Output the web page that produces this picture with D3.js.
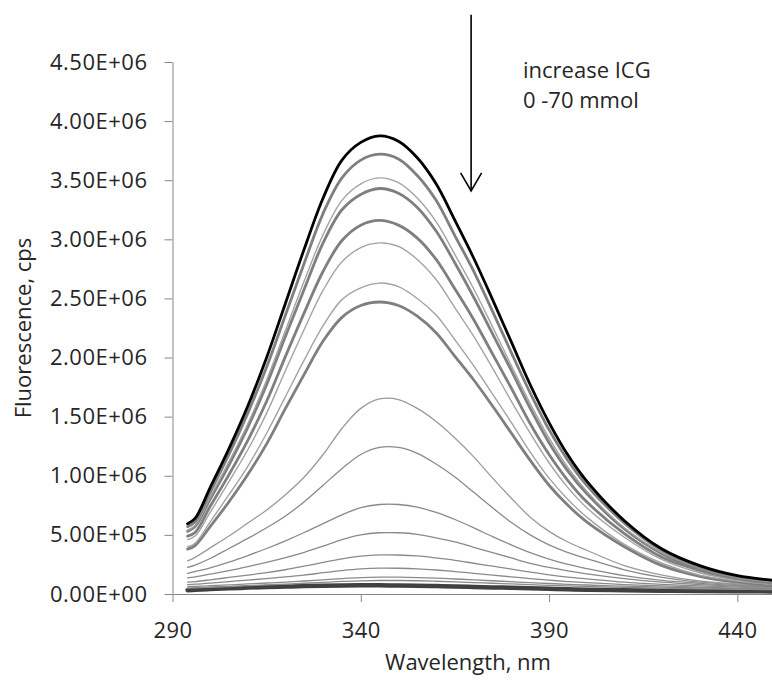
<!DOCTYPE html>
<html>
<head>
<meta charset="utf-8">
<script src="https://cdnjs.cloudflare.com/ajax/libs/d3/7.8.5/d3.min.js"></script>
<style>
  body { margin: 0; background: #fff; }
  svg { display: block; font-family: "Open Sans", sans-serif; }
  .axis path, .axis line { stroke: #868686; stroke-width: 1; }
  .axis text { font-family: "Open Sans", sans-serif; font-size: 22px; fill: #262626; letter-spacing: 0.5px; }
  .title { font-size: 22px; fill: #262626; }
</style>
</head>
<body>
<div id="chart"></div>
<script>
/* Wavelengths (nm) at which the spectra were read */
var wavelengths = [294, 296, 300, 305, 310, 315, 320, 325, 330, 335, 340, 345, 350, 355, 360, 365, 370, 375, 380, 385, 390, 395, 400, 410, 420, 430, 440, 450];

/* Fluorescence values, in units of 1E+06 cps */
var icg0  = [0.595, 0.64, 0.90, 1.23, 1.59, 2.00, 2.46, 2.92, 3.35, 3.67, 3.82, 3.875, 3.83, 3.69, 3.47, 3.16, 2.84, 2.49, 2.13, 1.77, 1.45, 1.175, 0.955, 0.62, 0.38, 0.24, 0.155, 0.115];
var icg1  = [0.57, 0.61, 0.86, 1.18, 1.53, 1.92, 2.36, 2.80, 3.22, 3.52, 3.67, 3.72, 3.68, 3.54, 3.33, 3.03, 2.73, 2.39, 2.04, 1.70, 1.39, 1.13, 0.92, 0.60, 0.37, 0.23, 0.15, 0.11];
var icg2  = [0.54, 0.58, 0.82, 1.12, 1.44, 1.81, 2.23, 2.65, 3.04, 3.33, 3.47, 3.52, 3.48, 3.35, 3.15, 2.87, 2.58, 2.26, 1.93, 1.61, 1.32, 1.07, 0.87, 0.56, 0.35, 0.22, 0.14, 0.10];
var icg3  = [0.53, 0.57, 0.80, 1.09, 1.41, 1.77, 2.18, 2.58, 2.97, 3.25, 3.38, 3.43, 3.39, 3.27, 3.07, 2.80, 2.51, 2.20, 1.89, 1.57, 1.28, 1.04, 0.85, 0.55, 0.34, 0.21, 0.14, 0.10];
var icg4  = [0.49, 0.52, 0.74, 1.01, 1.30, 1.63, 2.01, 2.38, 2.73, 2.99, 3.12, 3.16, 3.12, 3.01, 2.83, 2.58, 2.32, 2.03, 1.74, 1.44, 1.18, 0.96, 0.78, 0.51, 0.31, 0.20, 0.13, 0.09];
var icg5  = [0.46, 0.49, 0.69, 0.95, 1.22, 1.53, 1.89, 2.24, 2.57, 2.81, 2.93, 2.97, 2.94, 2.83, 2.66, 2.42, 2.18, 1.91, 1.63, 1.36, 1.11, 0.90, 0.73, 0.48, 0.29, 0.18, 0.12, 0.09];
var icg6  = [0.40, 0.43, 0.61, 0.84, 1.08, 1.36, 1.67, 1.98, 2.27, 2.49, 2.59, 2.63, 2.60, 2.50, 2.36, 2.15, 1.93, 1.69, 1.45, 1.20, 0.98, 0.80, 0.65, 0.42, 0.26, 0.16, 0.11, 0.08];
var icg7  = [0.38, 0.41, 0.57, 0.78, 1.01, 1.27, 1.57, 1.86, 2.14, 2.34, 2.44, 2.47, 2.44, 2.35, 2.21, 2.01, 1.81, 1.59, 1.36, 1.13, 0.92, 0.75, 0.61, 0.40, 0.24, 0.15, 0.10, 0.07];
var icg8  = [0.28, 0.31, 0.39, 0.49, 0.60, 0.71, 0.84, 0.99, 1.18, 1.40, 1.57, 1.65, 1.645, 1.57, 1.46, 1.32, 1.16, 0.98, 0.81, 0.65, 0.53, 0.44, 0.37, 0.24, 0.16, 0.11, 0.085, 0.072];
var icg9  = [0.225, 0.245, 0.30, 0.385, 0.47, 0.56, 0.66, 0.78, 0.92, 1.06, 1.18, 1.24, 1.24, 1.19, 1.10, 0.99, 0.86, 0.73, 0.605, 0.50, 0.415, 0.35, 0.30, 0.205, 0.14, 0.10, 0.08, 0.068];
var icg10 = [0.175, 0.19, 0.222, 0.27, 0.325, 0.385, 0.45, 0.52, 0.595, 0.67, 0.73, 0.757, 0.757, 0.735, 0.69, 0.63, 0.56, 0.485, 0.415, 0.35, 0.295, 0.25, 0.215, 0.155, 0.115, 0.09, 0.072, 0.062];
var icg11 = [0.137, 0.145, 0.168, 0.198, 0.232, 0.268, 0.308, 0.353, 0.405, 0.46, 0.50, 0.518, 0.518, 0.505, 0.475, 0.44, 0.395, 0.35, 0.305, 0.26, 0.225, 0.195, 0.17, 0.13, 0.10, 0.08, 0.066, 0.057];
var icg12 = [0.10, 0.105, 0.12, 0.14, 0.16, 0.18, 0.205, 0.235, 0.268, 0.298, 0.32, 0.331, 0.33, 0.322, 0.305, 0.285, 0.26, 0.235, 0.21, 0.185, 0.162, 0.143, 0.128, 0.10, 0.082, 0.068, 0.058, 0.05];
var icg13 = [0.08, 0.083, 0.092, 0.105, 0.118, 0.13, 0.145, 0.16, 0.18, 0.198, 0.212, 0.219, 0.218, 0.213, 0.203, 0.19, 0.175, 0.16, 0.145, 0.13, 0.117, 0.105, 0.096, 0.08, 0.068, 0.058, 0.05, 0.045];
var icg14 = [0.062, 0.064, 0.07, 0.077, 0.085, 0.093, 0.10, 0.11, 0.12, 0.13, 0.138, 0.142, 0.142, 0.139, 0.134, 0.127, 0.12, 0.112, 0.104, 0.096, 0.089, 0.082, 0.076, 0.066, 0.058, 0.051, 0.046, 0.042];
var icg15 = [0.05, 0.052, 0.057, 0.063, 0.07, 0.077, 0.084, 0.091, 0.099, 0.106, 0.111, 0.114, 0.114, 0.112, 0.108, 0.103, 0.097, 0.091, 0.085, 0.079, 0.073, 0.068, 0.064, 0.056, 0.049, 0.044, 0.04, 0.037];
var icg16 = [0.032, 0.036, 0.042, 0.048, 0.054, 0.059, 0.063, 0.067, 0.07, 0.072, 0.073, 0.073, 0.072, 0.07, 0.067, 0.064, 0.06, 0.056, 0.052, 0.048, 0.044, 0.04, 0.037, 0.032, 0.028, 0.025, 0.023, 0.022];

/* Tick values */
var xTicks = [290, 340, 390, 440];
var yTicks = [0, 5e5, 1e6, 1.5e6, 2e6, 2.5e6, 3e6, 3.5e6, 4e6, 4.5e6];

/* Series drawn from the bottom up, with the style of each trace */
var series = [
    { values: icg16, color: "#404040", width: 4.5 },
    { values: icg15, color: "#8a8a8a", width: 1.3 },
    { values: icg14, color: "#8a8a8a", width: 1.3 },
    { values: icg13, color: "#8a8a8a", width: 1.3 },
    { values: icg12, color: "#8a8a8a", width: 1.3 },
    { values: icg11, color: "#8a8a8a", width: 1.3 },
    { values: icg10, color: "#8a8a8a", width: 1.3 },
    { values: icg9,  color: "#8a8a8a", width: 1.3 },
    { values: icg8,  color: "#9a9a9a", width: 1.3 },
    { values: icg7,  color: "#7f7f7f", width: 2.8 },
    { values: icg6,  color: "#a3a3a3", width: 1.4 },
    { values: icg5,  color: "#a3a3a3", width: 1.4 },
    { values: icg4,  color: "#7f7f7f", width: 2.8 },
    { values: icg3,  color: "#7f7f7f", width: 2.8 },
    { values: icg2,  color: "#a3a3a3", width: 1.4 },
    { values: icg1,  color: "#7f7f7f", width: 2.8 },
    { values: icg0,  color: "#000000", width: 2.8 }
];

var width = 772,
    height = 683;

var svg = d3.select("#chart")
    .append("svg")
    .attr("width", width)
    .attr("height", height);

/* Scales */
var x = d3.scaleLinear().domain([290, 450]).range([172.5, 775]);
var y = d3.scaleLinear().domain([0, 4.5e6]).range([594, 62]);

/* Excel style scientific labels, e.g. 4.50E+06 */
function sci(v) {
    if (v === 0) return "0.00E+00";
    var e = Math.floor(Math.log10(v));
    var m = v / Math.pow(10, e);
    return m.toFixed(2) + "E" + (e < 0 ? "-" : "+") + (Math.abs(e) < 10 ? "0" : "") + Math.abs(e);
}

/* Y axis */
svg.append("g")
    .attr("class", "axis")
    .attr("transform", "translate(" + x(290) + ",0)")
    .call(d3.axisLeft(y).tickValues(yTicks).tickSize(8).tickSizeOuter(0).tickPadding(17).tickFormat(sci));

/* X axis */
svg.append("g")
    .attr("class", "axis")
    .attr("transform", "translate(0," + y(0) + ")")
    .call(d3.axisBottom(x).tickValues(xTicks).tickSize(8).tickSizeOuter(0).tickPadding(20).tickFormat(d3.format("d")));

/* Spectra */
var line = d3.line()
    .x(function (d, i) { return x(wavelengths[i]); })
    .y(function (d) { return y(d * 1e6); })
    .curve(d3.curveCatmullRom.alpha(0.5));

svg.append("g")
    .selectAll("path")
    .data(series)
    .enter().append("path")
    .attr("d", function (s) { return line(s.values); })
    .attr("fill", "none")
    .attr("stroke", function (s) { return s.color; })
    .attr("stroke-width", function (s) { return s.width; })
    .attr("stroke-linejoin", "round")
    .attr("stroke-linecap", "round");

/* Axis titles */
svg.append("text")
    .attr("class", "title")
    .attr("x", 468)
    .attr("y", 670)
    .attr("text-anchor", "middle")
    .text("Wavelength, nm");

svg.append("text")
    .attr("class", "title")
    .attr("transform", "translate(31,328) rotate(-90)")
    .attr("text-anchor", "middle")
    .text("Fluorescence, cps");

/* Arrow showing the direction of increasing ICG */
var arrowW = 369.3, arrowTop = 4.9e6, arrowTip = 3.41e6;
var ax = x(arrowW), ty = y(arrowTip);
svg.append("line")
    .attr("x1", ax).attr("x2", ax)
    .attr("y1", y(arrowTop)).attr("y2", ty)
    .attr("stroke", "#000").attr("stroke-width", 1.6);
svg.append("path")
    .attr("d", "M" + (ax - 10.5) + "," + (ty - 18) + "L" + ax + "," + ty + "L" + (ax + 10.5) + "," + (ty - 18))
    .attr("fill", "none").attr("stroke", "#000").attr("stroke-width", 1.6);

svg.append("text")
    .attr("class", "title")
    .attr("x", 523).attr("y", 78)
    .text("increase ICG");
svg.append("text")
    .attr("class", "title")
    .attr("x", 523).attr("y", 108)
    .text("0 -70 mmol");
</script>
</body>
</html>
